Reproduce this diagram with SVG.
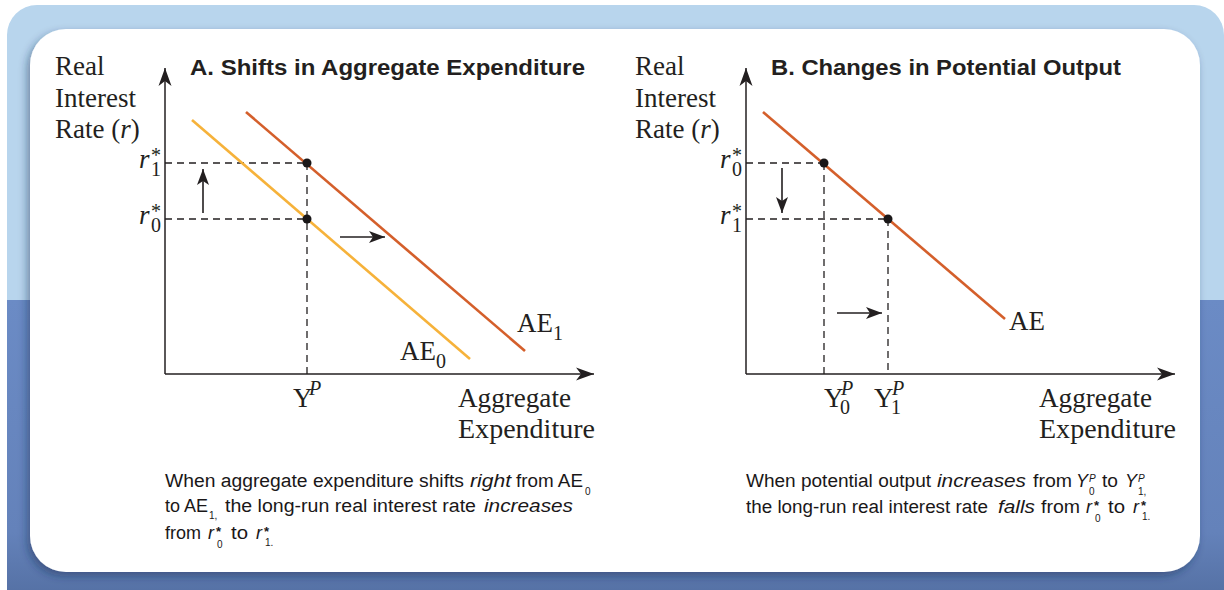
<svg xmlns="http://www.w3.org/2000/svg" width="1224" height="590" viewBox="0 0 1224 590">
<defs>
<clipPath id="outerClip"><rect x="7" y="5" width="1217" height="620" rx="30"/></clipPath>
<linearGradient id="lowBlue" x1="0" y1="0" x2="0" y2="1">
<stop offset="0" stop-color="#6b8bc5"/><stop offset="0.8" stop-color="#6482ba"/><stop offset="1" stop-color="#5672a6"/>
</linearGradient>
<filter id="shadow" x="-5%" y="-5%" width="110%" height="115%">
<feDropShadow dx="-3" dy="4" stdDeviation="4" flood-color="#1c2e55" flood-opacity="0.45"/>
</filter>
<marker id="axisHead" markerUnits="userSpaceOnUse" viewBox="-18 -7 18 14" refX="0" refY="0" markerWidth="18" markerHeight="14" orient="auto">
<path d="M0,0 L-18,-6.5 L-13,0 L-18,6.5 Z" fill="#231f20"/>
</marker>
<marker id="smallHead" markerUnits="userSpaceOnUse" viewBox="-16 -6 16 12" refX="0" refY="0" markerWidth="16" markerHeight="12" orient="auto">
<path d="M0,0 L-16,-6 L-12,0 L-16,6 Z" fill="#231f20"/>
</marker>
</defs>
<style>
.axis{stroke:#231f20;stroke-width:1.5;fill:none}
.dash{stroke:#231f20;stroke-width:1.3;stroke-dasharray:7 5;fill:none}
.arr{stroke:#231f20;stroke-width:1.6;fill:none}
.ae0{stroke:#f6b23a;stroke-width:2.6;fill:none}
.ae1{stroke:#d45f2b;stroke-width:2.6;fill:none}
.dot{fill:#1a1718}
.serif{font-family:"Liberation Serif","Times New Roman",serif;font-size:27px;fill:#231f20}
.it{font-style:italic}
.sub{font-family:"Liberation Serif","Times New Roman",serif;font-size:20px;fill:#231f20}
.title{font-family:"Liberation Sans",Arial,sans-serif;font-weight:bold;font-size:22px;fill:#231f20}
.cap{font-family:"Liberation Sans",Arial,sans-serif;font-size:18px;fill:#1a1718}
.csub{font-family:"Liberation Sans",Arial,sans-serif;font-size:10px;fill:#1a1718}
.cstar{font-family:"Liberation Sans",Arial,sans-serif;font-size:13px;font-weight:bold;fill:#1a1718}
</style>

<g id="background" clip-path="url(#outerClip)">
<rect x="0" y="0" width="1224" height="300" fill="#b8d5ed"/>
<rect x="0" y="300" width="1224" height="290" fill="url(#lowBlue)"/>
</g>
<rect id="panel" x="30" y="29" width="1170" height="543" rx="36" fill="#ffffff" filter="url(#shadow)"/>

<g id="panelA">
<text class="title" x="190" y="75" textLength="395" lengthAdjust="spacingAndGlyphs">A. Shifts in Aggregate Expenditure</text>
<g id="A-yaxis-label">
<text class="serif" x="55" y="75">Real</text>
<text class="serif" x="55" y="107">Interest</text>
<text class="serif" x="55" y="138">Rate (<tspan class="it">r</tspan>)</text>
</g>
<g id="A-connectors">
<line class="axis" x1="165" y1="374" x2="165" y2="68" marker-end="url(#axisHead)"/>
<line class="axis" x1="165" y1="374" x2="594" y2="374" marker-end="url(#axisHead)"/>
<line class="dash" x1="165" y1="163" x2="307" y2="163"/>
<line class="dash" x1="165" y1="219" x2="307" y2="219"/>
<line class="dash" x1="307" y1="163" x2="307" y2="374"/>
<line class="arr" x1="203" y1="213" x2="203" y2="169" marker-end="url(#smallHead)"/>
<line class="arr" x1="340" y1="237" x2="385" y2="237" marker-end="url(#smallHead)"/>
</g>
<g id="A-AE0">
<line class="ae0" x1="192" y1="120" x2="470" y2="359"/>
<text class="serif" x="400" y="360">AE</text><text class="sub" x="436" y="368">0</text>
</g>
<g id="A-AE1">
<line class="ae1" x1="246" y1="112" x2="525" y2="351"/>
<text class="serif" x="517" y="332">AE</text><text class="sub" x="553" y="340">1</text>
</g>
<circle class="dot" cx="307" cy="163" r="4.5"/>
<circle class="dot" cx="307" cy="219" r="4.5"/>
<g id="A-ticks">
<text class="serif it" x="139" y="168">r</text><text class="sub" x="151" y="176">1</text><text class="sub" x="151" y="162">*</text>
<text class="serif it" x="139" y="224">r</text><text class="sub" x="151" y="232">0</text><text class="sub" x="151" y="218">*</text>
<text class="serif" x="293" y="407">Y</text><text class="sub it" x="309" y="395">P</text>
<text class="serif" x="458" y="407" textLength="113" lengthAdjust="spacingAndGlyphs">Aggregate</text>
<text class="serif" x="458" y="438" textLength="137" lengthAdjust="spacingAndGlyphs">Expenditure</text>
</g>
<g id="A-caption">
<text class="cap" x="165" y="487" textLength="299" lengthAdjust="spacingAndGlyphs">When aggregate expenditure shifts</text>
<text class="cap it" x="470" y="487" textLength="41" lengthAdjust="spacingAndGlyphs">right</text>
<text class="cap" x="516" y="487" textLength="67" lengthAdjust="spacingAndGlyphs">from AE</text>
<text class="csub" x="585" y="495">0</text>
<text class="cap" x="165" y="512" textLength="43" lengthAdjust="spacingAndGlyphs">to AE</text>
<text class="csub" x="209" y="519">1,</text>
<text class="cap" x="225" y="512" textLength="251" lengthAdjust="spacingAndGlyphs">the long-run real interest rate</text>
<text class="cap it" x="484" y="512" textLength="89" lengthAdjust="spacingAndGlyphs">increases</text>
<text class="cap" x="165" y="539" textLength="36" lengthAdjust="spacingAndGlyphs">from</text>
<text class="cap it" x="208" y="539">r</text>
<text class="cstar" x="216" y="536">*</text><text class="csub" x="217" y="548">0</text>
<text class="cap" x="231" y="539" textLength="17" lengthAdjust="spacingAndGlyphs">to</text>
<text class="cap it" x="256" y="539">r</text>
<text class="cstar" x="264" y="536">*</text><text class="csub" x="265" y="546">1.</text>
</g>
</g>

<g id="panelB">
<text class="title" x="771" y="75" textLength="350" lengthAdjust="spacingAndGlyphs">B. Changes in Potential Output</text>
<g id="B-yaxis-label">
<text class="serif" x="635" y="75">Real</text>
<text class="serif" x="635" y="107">Interest</text>
<text class="serif" x="635" y="138">Rate (<tspan class="it">r</tspan>)</text>
</g>
<g id="B-connectors">
<line class="axis" x1="746" y1="374" x2="746" y2="68" marker-end="url(#axisHead)"/>
<line class="axis" x1="746" y1="374" x2="1175" y2="374" marker-end="url(#axisHead)"/>
<line class="dash" x1="746" y1="163" x2="824" y2="163"/>
<line class="dash" x1="746" y1="219" x2="888" y2="219"/>
<line class="dash" x1="824" y1="163" x2="824" y2="374"/>
<line class="dash" x1="888" y1="219" x2="888" y2="374"/>
<line class="arr" x1="782" y1="168" x2="782" y2="213" marker-end="url(#smallHead)"/>
<line class="arr" x1="837" y1="313" x2="882" y2="313" marker-end="url(#smallHead)"/>
</g>
<g id="B-AE">
<line class="ae1" x1="763" y1="112" x2="1005" y2="319"/>
<text class="serif" x="1009" y="330">AE</text>
</g>
<circle class="dot" cx="824" cy="163" r="4.5"/>
<circle class="dot" cx="888" cy="219" r="4.5"/>
<g id="B-ticks">
<text class="serif it" x="720" y="168">r</text><text class="sub" x="732" y="176">0</text><text class="sub" x="732" y="162">*</text>
<text class="serif it" x="720" y="224">r</text><text class="sub" x="732" y="232">1</text><text class="sub" x="732" y="218">*</text>
<text class="serif" x="824" y="407">Y</text><text class="sub it" x="841" y="395">P</text><text class="sub" x="840" y="414">0</text>
<text class="serif" x="874" y="407">Y</text><text class="sub it" x="892" y="395">P</text><text class="sub" x="891" y="414">1</text>
<text class="serif" x="1039" y="407" textLength="113" lengthAdjust="spacingAndGlyphs">Aggregate</text>
<text class="serif" x="1039" y="438" textLength="137" lengthAdjust="spacingAndGlyphs">Expenditure</text>
</g>
<g id="B-caption">
<text class="cap" x="746" y="487" textLength="185" lengthAdjust="spacingAndGlyphs">When potential output</text>
<text class="cap it" x="937" y="487" textLength="89" lengthAdjust="spacingAndGlyphs">increases</text>
<text class="cap" x="1033" y="487" textLength="39" lengthAdjust="spacingAndGlyphs">from</text>
<text class="cap it" x="1076" y="487">Y</text>
<text class="csub it" x="1089" y="482">P</text><text class="csub" x="1089" y="495">0</text>
<text class="cap" x="1102" y="487" textLength="16" lengthAdjust="spacingAndGlyphs">to</text>
<text class="cap it" x="1125" y="487">Y</text>
<text class="csub it" x="1138" y="482">P</text><text class="csub" x="1138" y="495">1,</text>
<text class="cap" x="746" y="513" textLength="242" lengthAdjust="spacingAndGlyphs">the long-run real interest rate</text>
<text class="cap it" x="998" y="513" textLength="37" lengthAdjust="spacingAndGlyphs">falls</text>
<text class="cap" x="1041" y="513" textLength="39" lengthAdjust="spacingAndGlyphs">from</text>
<text class="cap it" x="1086" y="513">r</text>
<text class="cstar" x="1094" y="510">*</text><text class="csub" x="1095" y="522">0</text>
<text class="cap" x="1108" y="513" textLength="17" lengthAdjust="spacingAndGlyphs">to</text>
<text class="cap it" x="1133" y="513">r</text>
<text class="cstar" x="1141" y="510">*</text><text class="csub" x="1142" y="520">1.</text>
</g>
</g>
</svg>
